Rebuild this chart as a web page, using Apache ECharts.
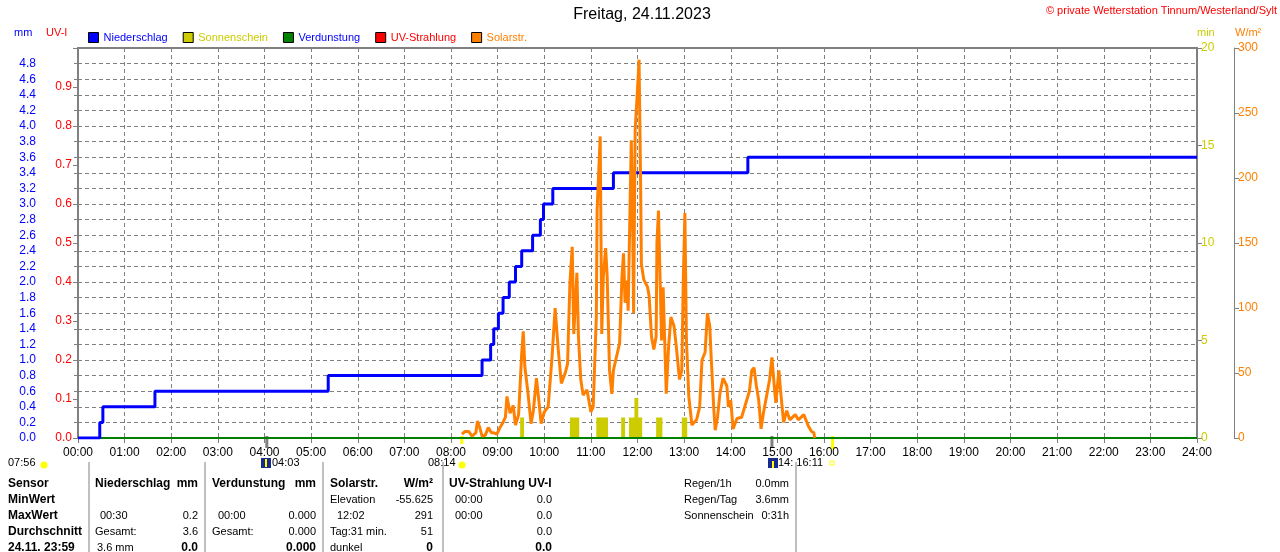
<!DOCTYPE html>
<html>
<head>
  <meta charset="utf-8">
  <title>Freitag, 24.11.2023</title>
  <script src="https://cdn.jsdelivr.net/npm/echarts@6/dist/echarts.min.js"></script>
  <style>
    html,body{margin:0;padding:0;background:#fff;}
  </style>
</head>
<body>
<div id="main" style="width:1280px;height:552px;"></div>

<script type="text/javascript">
// Niederschlag kumuliert (mm)
var rainTimes = ['00:00','00:28','00:32','01:39','05:22','08:40','08:51','08:55','09:01','09:07','09:15','09:23','09:31','09:45','09:55','09:59','10:11','11:29','14:22','24:00'];
var rainVals  = [0,0.2,0.4,0.6,0.8,1.0,1.2,1.4,1.6,1.8,2.0,2.2,2.4,2.6,2.8,3.0,3.2,3.4,3.6,3.6];

// Sonnenschein (min) als Blöcke
var sunStart = ['09:29','10:33','11:07','11:39','11:49','11:56','12:01','12:24','12:57'];
var sunEnd   = ['09:34','10:45','11:22','11:44','11:56','12:01','12:06','12:32','13:04'];
var sunMin   = [1.05,1.05,1.05,1.05,1.05,2.05,1.05,1.05,1.05];

// Verdunstung und UV (ganzer Tag 0)
var evapTimes = ['00:00','24:00'];
var evapVals  = [0,0];
var uvTimes = ['00:00','24:00'];
var uvVals  = [0,0];

// Solarstrahlung W/m²
var solarTimes = ['08:14','08:18','08:23','08:27','08:32','08:34','08:37','08:40','08:44','08:48','08:52','08:55','08:59',
  '09:03','09:07','09:10','09:12','09:16','09:20','09:23','09:27','09:31','09:33','09:35','09:39','09:43','09:46','09:50','09:53','09:56',
  '10:00','10:05','10:10','10:14','10:18','10:22','10:27','10:30','10:33','10:36','10:38','10:42','10:44','10:47','10:50','10:55',
  '11:00','11:03','11:07','11:08','11:12','11:14','11:16','11:19','11:21','11:24','11:27','11:29','11:32','11:37','11:40','11:42','11:44','11:46','11:48','11:50','11:52','11:54','11:55','11:57',
  '12:00','12:02','12:04','12:05','12:08','12:13','12:15','12:18','12:21','12:24','12:25','12:27','12:29','12:31','12:33','12:37','12:40','12:43','12:47','12:50','12:54','12:57','12:59',
  '13:01','13:03','13:06','13:10','13:16','13:20','13:23','13:27','13:30','13:33','13:35','13:38','13:40','13:43','13:46','13:50','13:55','13:57',
  '14:00','14:03','14:08','14:14','14:18','14:24','14:27','14:30','14:33','14:36','14:39','14:42','14:46','14:50','14:53','14:56','14:58',
  '15:02','15:04','15:08','15:12','15:16','15:23','15:27','15:34','15:40','15:44','15:47','15:48'];
var solarVals = [3,5,5,1.5,4,13,8,1.5,2,8,4,4,3,
  8,12,16,32,19,25,10,18,65,82,55,35,11,21,46,29,11,
  20,24,62,100,68,42,50,57,119,147,80,127,78,45,33,37,
  20,24,93,175,232,80,124,146,124,52,34,52,60,73,124,142,104,121,98,165,229,155,96,237,
  268,291,196,134,122,116,109,78,68,78,150,175,124,75,116,34,70,93,86,70,45,52,124,
  173,75,32,10,14,24,60,66,96,86,60,24,6,16,34,46,40,24,
  29,7,15,16,24,36,52,54,40,29,7,19,32,45,62,40,27,
  52,37,12,21,14,18,14,18,9,5,4,0];

var hourLabels = ['00:00','01:00','02:00','03:00','04:00','05:00','06:00','07:00','08:00','09:00','10:00','11:00','12:00',
  '13:00','14:00','15:00','16:00','17:00','18:00','19:00','20:00','21:00','22:00','23:00','24:00'];

var toH = function(s){
  var p = s.split(':');
  return parseInt(p[0],10) + parseInt(p[1],10)/60;
};
var pairs = function(ts, vs){
  var out = [];
  for (var i=0;i<ts.length;i++) out.push([toH(ts[i]), vs[i]]);
  return out;
};

var sunData = [];
for (var i=0;i<sunStart.length;i++){
  var a = toH(sunStart[i]), b = toH(sunEnd[i]);
  sunData.push([a,0],[a,sunMin[i]],[b,sunMin[i]],[b,0]);
}

var FONT = 'Liberation Sans, Arial, sans-serif';
var GRAY = '#808080';

var myChart = echarts.init(document.getElementById('main'));

// Texte (Tabelle, Titel, Achsennamen)
var txt = function(x, y, s, opt){
  opt = opt || {};
  return {
    type:'text', x:x, y:y, silent:true,
    style:{
      text:s, x:0, y:0, fill:opt.color || '#000',
      font:(opt.bold ? 'bold ' : '') + (opt.size || 11) + 'px ' + FONT,
      textAlign:opt.align || 'left', textVerticalAlign:'middle'
    }
  };
};
var vline = function(x, y1, y2, color, w){
  return {type:'line', silent:true, shape:{x1:x,y1:y1,x2:x,y2:y2}, style:{stroke:color || GRAY, lineWidth:w || 1}};
};

var rowY = [484, 500, 516, 532, 548];
var table = [
  txt(8,rowY[0],'Sensor',{bold:true,size:12}),
  txt(8,rowY[1],'MinWert',{bold:true,size:12}),
  txt(8,rowY[2],'MaxWert',{bold:true,size:12}),
  txt(8,rowY[3],'Durchschnitt',{bold:true,size:12}),
  txt(8,rowY[4],'24.11. 23:59',{bold:true,size:12}),

  txt(95,rowY[0],'Niederschlag',{bold:true,size:12}),
  txt(198,rowY[0],'mm',{bold:true,size:12,align:'right'}),
  txt(100,rowY[2],'00:30'), txt(198,rowY[2],'0.2',{align:'right'}),
  txt(95,rowY[3],'Gesamt:'), txt(198,rowY[3],'3.6',{align:'right'}),
  txt(97,rowY[4],'3.6 mm'), txt(198,rowY[4],'0.0',{bold:true,size:12,align:'right'}),

  txt(212,rowY[0],'Verdunstung',{bold:true,size:12}),
  txt(316,rowY[0],'mm',{bold:true,size:12,align:'right'}),
  txt(218,rowY[2],'00:00'), txt(316,rowY[2],'0.000',{align:'right'}),
  txt(212,rowY[3],'Gesamt:'), txt(316,rowY[3],'0.000',{align:'right'}),
  txt(316,rowY[4],'0.000',{bold:true,size:12,align:'right'}),

  txt(330,rowY[0],'Solarstr.',{bold:true,size:12}),
  txt(433,rowY[0],'W/m²',{bold:true,size:12,align:'right'}),
  txt(330,rowY[1],'Elevation'), txt(433,rowY[1],'-55.625',{align:'right'}),
  txt(337,rowY[2],'12:02'), txt(433,rowY[2],'291',{align:'right'}),
  txt(330,rowY[3],'Tag:31 min.'), txt(433,rowY[3],'51',{align:'right'}),
  txt(330,rowY[4],'dunkel'), txt(433,rowY[4],'0',{bold:true,size:12,align:'right'}),

  txt(449,rowY[0],'UV-Strahlung UV-I',{bold:true,size:12}),
  txt(455,rowY[1],'00:00'), txt(552,rowY[1],'0.0',{align:'right'}),
  txt(455,rowY[2],'00:00'), txt(552,rowY[2],'0.0',{align:'right'}),
  txt(552,rowY[3],'0.0',{align:'right'}),
  txt(552,rowY[4],'0.0',{bold:true,size:12,align:'right'}),

  txt(684,rowY[0],'Regen/1h'), txt(789,rowY[0],'0.0mm',{align:'right'}),
  txt(684,rowY[1],'Regen/Tag'), txt(789,rowY[1],'3.6mm',{align:'right'}),
  txt(684,rowY[2],'Sonnenschein'), txt(789,rowY[2],'0:31h',{align:'right'}),

  vline(89,462,552), vline(205,462,552), vline(323,462,552), vline(443,462,552), vline(796,462,552),

  // Zeiten unter der Achse
  txt(8,463,'07:56'),
  {type:'circle', silent:true, shape:{cx:44,cy:465,r:3.5}, style:{fill:'#ffff00'}},
  {type:'rect', silent:true, shape:{x:261,y:458,width:10,height:10}, style:{fill:'#1a2a8c'}},
  {type:'rect', silent:true, shape:{x:265,y:459,width:2,height:8}, style:{fill:'#ffff00'}},
  txt(272,463,'04:03'),
  txt(428,463,'08:14'),
  {type:'circle', silent:true, shape:{cx:462,cy:465,r:3.5}, style:{fill:'#ffff00'}},
  {type:'rect', silent:true, shape:{x:768,y:458,width:10,height:10}, style:{fill:'#1a2a8c'}},
  {type:'rect', silent:true, shape:{x:772,y:461,width:2,height:7}, style:{fill:'#ffff00'}},
  txt(778,463,'14: 16:11'),
  {type:'rect', silent:true, shape:{x:830,y:461,width:4,height:4}, style:{fill:'#fff',stroke:'#ffff00',lineWidth:1}},

  // Achsennamen
  txt(14,33,'mm',{color:'#0000ff'}),
  txt(46,33,'UV-I',{color:'#ff0000'}),
  txt(1197,33,'min',{color:'#cccc00'}),
  txt(1235,33,'W/m²',{color:'#ff8000'}),

  // Titel und Copyright
  txt(642,15,'Freitag, 24.11.2023',{size:16,align:'center'}),
  txt(1277,11,'© private Wetterstation Tinnum/Westerland/Sylt',{color:'#ff0000',align:'right'})
];

var dashed = {show:true, lineStyle:{color:GRAY, type:[4,3], width:1}};

var option = {
  animation:false,
  textStyle:{fontFamily:FONT},
  grid:{left:78, right:83, top:48, bottom:114, show:true, borderColor:GRAY, borderWidth:2, backgroundColor:'#fff'},
  legend:{
    left:88, top:32, padding:0, itemWidth:10, itemHeight:10, itemGap:15, icon:'rect',
    itemStyle:{borderColor:'#000', borderWidth:1},
    textStyle:{fontSize:11, fontFamily:FONT},
    data:[
      {name:'Niederschlag', textStyle:{color:'#0000ff'}},
      {name:'Sonnenschein', textStyle:{color:'#cccc00'}},
      {name:'Verdunstung', textStyle:{color:'#0000ff'}},
      {name:'UV-Strahlung', textStyle:{color:'#ff0000'}},
      {name:'Solarstr.', textStyle:{color:'#ff8000'}}
    ]
  },
  xAxis:{
    type:'value', min:0, max:24, interval:1,
    axisLine:{show:false},
    axisTick:{show:true, length:5, lineStyle:{color:GRAY}},
    axisLabel:{color:'#000', fontSize:12, margin:9, formatter:function(v){return hourLabels[Math.round(v)];}},
    splitLine:dashed
  },
  yAxis:[
    {
      type:'value', position:'left', offset:38, min:0, max:5, interval:0.2,
      axisLine:{show:true, lineStyle:{color:GRAY, width:1}},
      axisTick:{show:true, length:4, lineStyle:{color:GRAY}},
      axisLabel:{color:'#0000ff', fontSize:12, margin:4, formatter:function(v){return v>=4.99?'':v.toFixed(1);}},
      splitLine:dashed
    },
    {
      type:'value', position:'left', offset:0, min:0, max:1, interval:0.1,
      axisLine:{show:false},
      axisTick:{show:true, length:5, lineStyle:{color:GRAY}},
      axisLabel:{color:'#ff0000', fontSize:12, margin:6, formatter:function(v){return v>=0.99?'':v.toFixed(1);}},
      splitLine:{show:false}
    },
    {
      type:'value', position:'right', offset:0, min:0, max:20, interval:5,
      axisLine:{show:false},
      axisTick:{show:true, length:5, lineStyle:{color:GRAY}},
      axisLabel:{color:'#cccc00', fontSize:12, margin:4},
      splitLine:{show:false}
    },
    {
      type:'value', position:'right', offset:37, min:0, max:300, interval:50,
      axisLine:{show:true, lineStyle:{color:GRAY, width:1}},
      axisTick:{show:true, length:5, lineStyle:{color:GRAY}},
      axisLabel:{color:'#ff8000', fontSize:12, margin:4},
      splitLine:{show:false}
    }
  ],
  graphic:table,
  series:[
    {
      name:'Sonnenschein', type:'line', yAxisIndex:2, data:sunData,
      color:'#cccc00', symbol:'none', z:2,
      lineStyle:{width:0}, areaStyle:{color:'#cccc00', opacity:1}
    },
    {
      name:'UV-Strahlung', type:'line', yAxisIndex:1, data:pairs(uvTimes, uvVals),
      color:'#ff0000', symbol:'none', z:3, lineStyle:{width:2}
    },
    {
      name:'Verdunstung', type:'line', yAxisIndex:0, data:pairs(evapTimes, evapVals),
      color:'#008000', symbol:'none', z:4, lineStyle:{width:2}
    },
    {
      name:'Niederschlag', type:'line', yAxisIndex:0, step:'end', data:pairs(rainTimes, rainVals),
      color:'#0000ff', symbol:'none', z:5, lineStyle:{width:3}
    },
    {
      name:'Solarstr.', type:'line', yAxisIndex:3, data:pairs(solarTimes, solarVals),
      color:'#ff8000', symbol:'none', z:6, lineStyle:{width:3}
    }
  ]
};

myChart.setOption(option);

// Sonnenauf-/untergang Markierungen an der Zeitachse
var base = myChart.convertToPixel({yAxisIndex:0}, 0);
var marks = [
  {t:'04:03', c:GRAY, w:3, h:10},
  {t:'08:14', c:'#ffff00', w:3, h:6},
  {t:'14:53', c:GRAY, w:3, h:10},
  {t:'16:11', c:'#ffff00', w:3, h:12}
];
var extra = [];
for (var k=0;k<marks.length;k++){
  var px = myChart.convertToPixel({xAxisIndex:0}, toH(marks[k].t));
  extra.push({type:'line', silent:true, shape:{x1:px,y1:base-2,x2:px,y2:base+marks[k].h}, style:{stroke:marks[k].c, lineWidth:marks[k].w}});
}
myChart.setOption({graphic:table.concat(extra)});
</script>
</body>
</html>
